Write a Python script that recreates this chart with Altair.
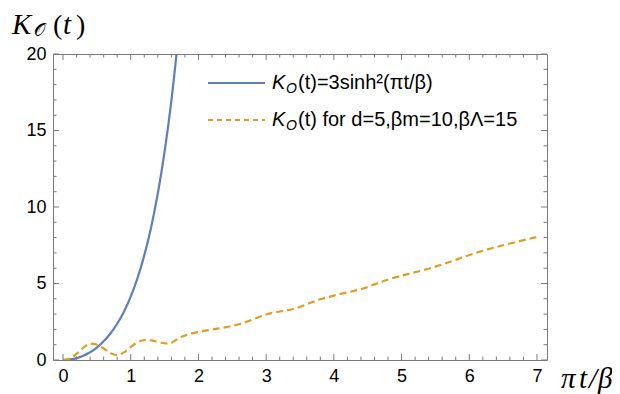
import altair as alt
import pandas as pd

# ---- data ----
blue_x = [0, 0.1, 0.2, 0.3, 0.4, 0.5, 0.6, 0.7, 0.8, 0.9, 1.0, 1.1, 1.2, 1.3, 1.4, 1.5, 1.6, 1.7]
blue_y = [0, 0.03, 0.12, 0.28, 0.51, 0.81, 1.22, 1.73, 2.37, 3.16, 4.14, 5.35, 6.84, 8.65, 10.88, 13.6, 16.93, 21.0]

orange_x = [0, 0.1, 0.2, 0.3, 0.4, 0.5, 0.6, 0.7, 0.79, 0.9, 1.0, 1.1, 1.2, 1.3, 1.4, 1.56, 1.73,
            1.97, 2.22, 2.61, 3.06, 3.40, 3.80, 4.09, 4.39, 4.78, 5.47, 6.16, 7.0]
orange_y = [0, 0.1, 0.4, 0.8, 1.07, 1.0, 0.75, 0.45, 0.33, 0.5, 0.85, 1.15, 1.3, 1.28, 1.18, 1.07, 1.48,
            1.81, 2.0, 2.35, 3.05, 3.33, 3.97, 4.31, 4.62, 5.23, 6.06, 7.08, 8.04]

x_major = [0, 1, 2, 3, 4, 5, 6, 7]
x_minor = [round(i * 0.2, 1) for i in range(36) if i % 5 != 0]
y_major = [0, 5, 10, 15, 20]
y_minor = [i for i in range(21) if i % 5 != 0]

legend_labels = ["(t)=3sinh²(πt/β)", "(t) for d=5,βm=10,βΛ=15"]

BLUE = "#5E81B5"
ORANGE = "#E19C24"
FRAME = "#7a7a7a"
W, H = 494, 306
XDOM = [-0.148, 7.148]
YDOM = [0, 20]

df = pd.DataFrame({
    "x": blue_x + orange_x,
    "y": blue_y + orange_y,
    "s": ["blue"] * len(blue_x) + ["orange"] * len(orange_x),
})

xs = alt.Scale(domain=XDOM, nice=False, zero=False)
ys = alt.Scale(domain=YDOM, nice=False, zero=False)

base_x = alt.X("x:Q", scale=xs, title=None,
               axis=alt.Axis(values=x_major, ticks=False, domain=False, grid=False,
                             labelFont="Liberation Sans", labelFontSize=18, labelColor="black",
                             labelPadding=7, format="d"))
base_y = alt.Y("y:Q", scale=ys, title=None,
               axis=alt.Axis(values=y_major, ticks=False, domain=False, grid=False,
                             labelFont="Liberation Sans", labelFontSize=18, labelColor="black",
                             labelPadding=7, format="d"))

blue = alt.Chart(df[df.s == "blue"]).mark_line(color=BLUE, strokeWidth=2.2, clip=True,
                                              interpolate="monotone").encode(x=base_x, y=base_y)
orange = alt.Chart(df[df.s == "orange"]).mark_line(color=ORANGE, strokeWidth=2.2, clip=True,
                                                  strokeDash=[7, 4], interpolate="monotone").encode(
    x=alt.X("x:Q", scale=xs), y=alt.Y("y:Q", scale=ys))


def xticks(vals, length):
    d = pd.DataFrame({"x": vals})
    bot = alt.Chart(d).mark_rule(color=FRAME, strokeWidth=1).encode(
        x=alt.X("x:Q", scale=xs), y=alt.value(H), y2=alt.value(H - length))
    top = alt.Chart(d).mark_rule(color=FRAME, strokeWidth=1).encode(
        x=alt.X("x:Q", scale=xs), y=alt.value(0), y2=alt.value(length))
    return [bot, top]


def yticks(vals, length):
    d = pd.DataFrame({"y": vals})
    left = alt.Chart(d).mark_rule(color=FRAME, strokeWidth=1).encode(
        y=alt.Y("y:Q", scale=ys), x=alt.value(0), x2=alt.value(length))
    right = alt.Chart(d).mark_rule(color=FRAME, strokeWidth=1).encode(
        y=alt.Y("y:Q", scale=ys), x=alt.value(W), x2=alt.value(W - length))
    return [left, right]


ticks = xticks(x_major, 6) + xticks(x_minor, 3.5) + yticks(y_major, 6) + yticks(y_minor, 3.5)


def txt(s, x, y, size, font="Liberation Sans", italic=False, baseline="alphabetic", color="black"):
    return alt.Chart(pd.DataFrame({"t": [s]})).mark_text(
        font=font, fontSize=size, fontStyle="italic" if italic else "normal",
        align="left", baseline=baseline, color=color).encode(
        text="t:N", x=alt.value(x), y=alt.value(y))


def leg_line(color, dash, y):
    return alt.Chart(pd.DataFrame({"c": [color]})).mark_rule(
        color=color, strokeWidth=2.2, strokeDash=dash).encode(
        x=alt.value(155), x2=alt.value(212), y=alt.value(y))


legend = [
    leg_line(BLUE, [1, 0], 29),
    leg_line(ORANGE, [5, 4], 66),
    txt("K", 219, 35, 20, italic=True),
    txt("O", 233, 39, 14, italic=True),
    txt(legend_labels[0], 245, 35, 20),
    txt("K", 219, 72, 20, italic=True),
    txt("O", 233, 76, 14, italic=True),
    txt(legend_labels[1], 245, 72, 20),
]

titles = [
    txt("K", -41, -20, 29, font="Liberation Serif", italic=True),
    txt("𝒪", -19, -18, 18, font="DejaVu Serif"),
    txt("(", 0, -20, 28, font="Liberation Serif"),
    txt("t", 10, -20, 29, font="Liberation Serif", italic=True),
    txt(")", 23, -20, 28, font="Liberation Serif"),
    txt("π", 508, H + 28, 29, font="Liberation Serif", italic=True),
    txt("t", 526, H + 28, 29, font="Liberation Serif", italic=True),
    txt("/", 536, H + 28, 29, font="Liberation Serif", italic=True),
    txt("β", 545, H + 28, 29, font="Liberation Serif", italic=True),
]

chart = alt.layer(blue, orange, *ticks, *legend, *titles).properties(
    width=W, height=H,
    autosize=alt.AutoSizeParams(type="none"),
    padding={"left": 45, "top": 46, "right": 65, "bottom": 34},
).configure_view(stroke=FRAME, strokeWidth=1)

chart.save("out.html", embed_options={"renderer": "svg", "actions": False})
